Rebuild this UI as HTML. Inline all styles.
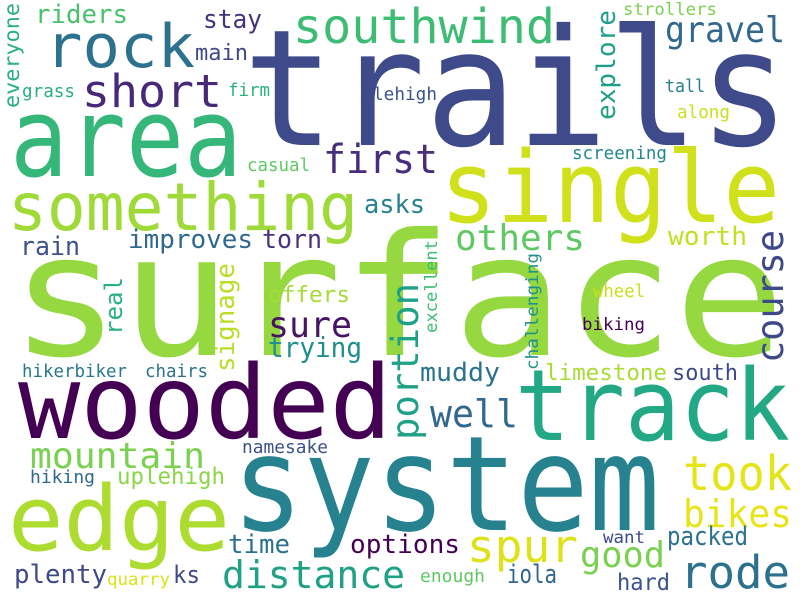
<!DOCTYPE html>
<html><head><meta charset="utf-8"><style>
html,body{margin:0;padding:0;background:#fff;width:800px;height:600px;overflow:hidden}
svg text{font-family:"DejaVu Sans Mono","Liberation Mono",monospace}
</style></head><body>
<svg width="800" height="600" viewBox="0 0 800 600" xmlns="http://www.w3.org/2000/svg">
<rect width="800" height="600" fill="#fff"/>
<g lengthAdjust="spacingAndGlyphs">
<text x="10" y="355" font-size="170" textLength="775" lengthAdjust="spacingAndGlyphs" fill="#95d840">surface</text>
<text x="243" y="145" font-size="162" textLength="547" lengthAdjust="spacingAndGlyphs" fill="#3e4a89">trails</text>
<text x="10" y="176" font-size="110" textLength="232" lengthAdjust="spacingAndGlyphs" fill="#35b779">area</text>
<text x="18" y="438" font-size="102" textLength="374" lengthAdjust="spacingAndGlyphs" fill="#440154">wooded</text>
<text x="232" y="530" font-size="132" textLength="428" lengthAdjust="spacingAndGlyphs" fill="#26828e">system</text>
<text x="8" y="550" font-size="90" textLength="222" lengthAdjust="spacingAndGlyphs" fill="#addc30">edge</text>
<text x="515" y="440" font-size="99" textLength="275" lengthAdjust="spacingAndGlyphs" fill="#22a884">track</text>
<text x="440" y="222" font-size="99" textLength="340" lengthAdjust="spacingAndGlyphs" fill="#d0e11c">single</text>
<text x="8" y="230" font-size="66" textLength="350" lengthAdjust="spacingAndGlyphs" fill="#a0da39">something</text>
<text x="45" y="67" font-size="60" textLength="150" lengthAdjust="spacingAndGlyphs" fill="#2c718e">rock</text>
<text x="293" y="43" font-size="48" textLength="262" lengthAdjust="spacingAndGlyphs" fill="#3dbc74">southwind</text>
<text x="82" y="107" font-size="45" textLength="140" lengthAdjust="spacingAndGlyphs" fill="#482878">short</text>
<text x="665" y="42" font-size="36" textLength="120" lengthAdjust="spacingAndGlyphs" fill="#31688e">gravel</text>
<text x="323" y="173" font-size="40" textLength="115" lengthAdjust="spacingAndGlyphs" fill="#472d7b">first</text>
<text x="455" y="250" font-size="36" textLength="130" lengthAdjust="spacingAndGlyphs" fill="#5ec962">others</text>
<text x="364" y="213" font-size="26" textLength="61" lengthAdjust="spacingAndGlyphs" fill="#26828e">asks</text>
<text x="203" y="28" font-size="26" textLength="59" lengthAdjust="spacingAndGlyphs" fill="#46337e">stay</text>
<text x="195" y="60" font-size="22" textLength="53" lengthAdjust="spacingAndGlyphs" fill="#3e4989">main</text>
<text x="35" y="23" font-size="26" textLength="93" lengthAdjust="spacingAndGlyphs" fill="#4ac16d">riders</text>
<text x="22" y="97" font-size="18" textLength="53" lengthAdjust="spacingAndGlyphs" fill="#29af7f">grass</text>
<text x="228" y="96" font-size="18" textLength="42" lengthAdjust="spacingAndGlyphs" fill="#2db27d">firm</text>
<text x="373" y="100" font-size="18" textLength="64" lengthAdjust="spacingAndGlyphs" fill="#3b528b">lehigh</text>
<text x="247" y="171" font-size="18" textLength="63" lengthAdjust="spacingAndGlyphs" fill="#5ec962">casual</text>
<text x="128" y="248" font-size="26" textLength="125" lengthAdjust="spacingAndGlyphs" fill="#31688e">improves</text>
<text x="262" y="248" font-size="26" textLength="60" lengthAdjust="spacingAndGlyphs" fill="#46327e">torn</text>
<text x="20" y="255" font-size="26" textLength="60" lengthAdjust="spacingAndGlyphs" fill="#3b528b">rain</text>
<text x="623" y="15" font-size="17" textLength="94" lengthAdjust="spacingAndGlyphs" fill="#7ad151">strollers</text>
<text x="665" y="92" font-size="18" textLength="40" lengthAdjust="spacingAndGlyphs" fill="#277f8e">tall</text>
<text x="677" y="118" font-size="18" textLength="53" lengthAdjust="spacingAndGlyphs" fill="#c8e020">along</text>
<text x="572" y="159" font-size="18" textLength="95" lengthAdjust="spacingAndGlyphs" fill="#23898e">screening</text>
<text x="668" y="245" font-size="26" textLength="79" lengthAdjust="spacingAndGlyphs" fill="#c2df23">worth</text>
<text x="268" y="302" font-size="22" textLength="82" lengthAdjust="spacingAndGlyphs" fill="#a5db36">offers</text>
<text x="593" y="297" font-size="18" textLength="52" lengthAdjust="spacingAndGlyphs" fill="#c8e020">wheel</text>
<text x="268" y="337" font-size="36" textLength="84" lengthAdjust="spacingAndGlyphs" fill="#471365">sure</text>
<text x="268" y="357" font-size="28" textLength="94" lengthAdjust="spacingAndGlyphs" fill="#21908d">trying</text>
<text x="22" y="377" font-size="18" textLength="105" lengthAdjust="spacingAndGlyphs" fill="#2a788e">hikerbiker</text>
<text x="145" y="377" font-size="18" textLength="63" lengthAdjust="spacingAndGlyphs" fill="#2c728e">chairs</text>
<text x="242" y="453" font-size="18" textLength="86" lengthAdjust="spacingAndGlyphs" fill="#3b528b">namesake</text>
<text x="30" y="468" font-size="36" textLength="175" lengthAdjust="spacingAndGlyphs" fill="#7ad151">mountain</text>
<text x="30" y="483" font-size="18" textLength="65" lengthAdjust="spacingAndGlyphs" fill="#31688e">hiking</text>
<text x="117" y="484" font-size="23" textLength="108" lengthAdjust="spacingAndGlyphs" fill="#8bd646">uplehigh</text>
<text x="228" y="553" font-size="26" textLength="62" lengthAdjust="spacingAndGlyphs" fill="#2c728e">time</text>
<text x="350" y="553" font-size="26" textLength="110" lengthAdjust="spacingAndGlyphs" fill="#440154">options</text>
<text x="14" y="583" font-size="26" textLength="93" lengthAdjust="spacingAndGlyphs" fill="#3e4989">plenty</text>
<text x="107" y="585" font-size="17" textLength="63" lengthAdjust="spacingAndGlyphs" fill="#d8e219">quarry</text>
<text x="173" y="583" font-size="24" textLength="27" lengthAdjust="spacingAndGlyphs" fill="#3e4989">ks</text>
<text x="222" y="588" font-size="38" textLength="183" lengthAdjust="spacingAndGlyphs" fill="#1fa187">distance</text>
<text x="467" y="562" font-size="45" textLength="111" lengthAdjust="spacingAndGlyphs" fill="#dde318">spur</text>
<text x="580" y="567" font-size="36" textLength="85" lengthAdjust="spacingAndGlyphs" fill="#7ad151">good</text>
<text x="683" y="490" font-size="48" textLength="109" lengthAdjust="spacingAndGlyphs" fill="#e5e419">took</text>
<text x="683" y="527" font-size="38" textLength="109" lengthAdjust="spacingAndGlyphs" fill="#e7e419">bikes</text>
<text x="667" y="545" font-size="26" textLength="81" lengthAdjust="spacingAndGlyphs" fill="#2c718e">packed</text>
<text x="603" y="543" font-size="17" textLength="42" lengthAdjust="spacingAndGlyphs" fill="#3e4a89">want</text>
<text x="680" y="588" font-size="45" textLength="110" lengthAdjust="spacingAndGlyphs" fill="#2c718e">rode</text>
<text x="507" y="583" font-size="26" textLength="50" lengthAdjust="spacingAndGlyphs" fill="#31688e">iola</text>
<text x="420" y="582" font-size="18" textLength="65" lengthAdjust="spacingAndGlyphs" fill="#5ec962">enough</text>
<text x="617" y="590" font-size="23" textLength="53" lengthAdjust="spacingAndGlyphs" fill="#3b528b">hard</text>
<text x="420" y="381" font-size="26" textLength="80" lengthAdjust="spacingAndGlyphs" fill="#2c728e">muddy</text>
<text x="430" y="427" font-size="38" textLength="88" lengthAdjust="spacingAndGlyphs" fill="#31688e">well</text>
<text x="545" y="380" font-size="22" textLength="122" lengthAdjust="spacingAndGlyphs" fill="#a8db34">limestone</text>
<text x="672" y="380" font-size="22" textLength="66" lengthAdjust="spacingAndGlyphs" fill="#3e4989">south</text>
<text x="582" y="330" font-size="17" textLength="63" lengthAdjust="spacingAndGlyphs" fill="#440154">biking</text>
<!-- vertical words -->
<text transform="translate(19,108) rotate(-90)" font-size="21" textLength="105" lengthAdjust="spacingAndGlyphs" fill="#2ab07f">everyone</text>
<text transform="translate(615,120) rotate(-90)" font-size="26" textLength="110" lengthAdjust="spacingAndGlyphs" fill="#1f9e89">explore</text>
<text transform="translate(783,363) rotate(-90)" font-size="37" textLength="133" lengthAdjust="spacingAndGlyphs" fill="#3e4989">course</text>
<text transform="translate(418,440) rotate(-90)" font-size="37" textLength="157" lengthAdjust="spacingAndGlyphs" fill="#1fa187">portion</text>
<text transform="translate(234,372) rotate(-90)" font-size="26" textLength="109" lengthAdjust="spacingAndGlyphs" fill="#bade28">signage</text>
<text transform="translate(122,335) rotate(-90)" font-size="24" textLength="58" lengthAdjust="spacingAndGlyphs" fill="#2ab07f">real</text>
<text transform="translate(437,333) rotate(-90)" font-size="17" textLength="93" lengthAdjust="spacingAndGlyphs" fill="#3dbc74">excellent</text>
<text transform="translate(538,370) rotate(-90)" font-size="17" textLength="117" lengthAdjust="spacingAndGlyphs" fill="#21918c">challenging</text>
</g>
</svg>
</body></html>
